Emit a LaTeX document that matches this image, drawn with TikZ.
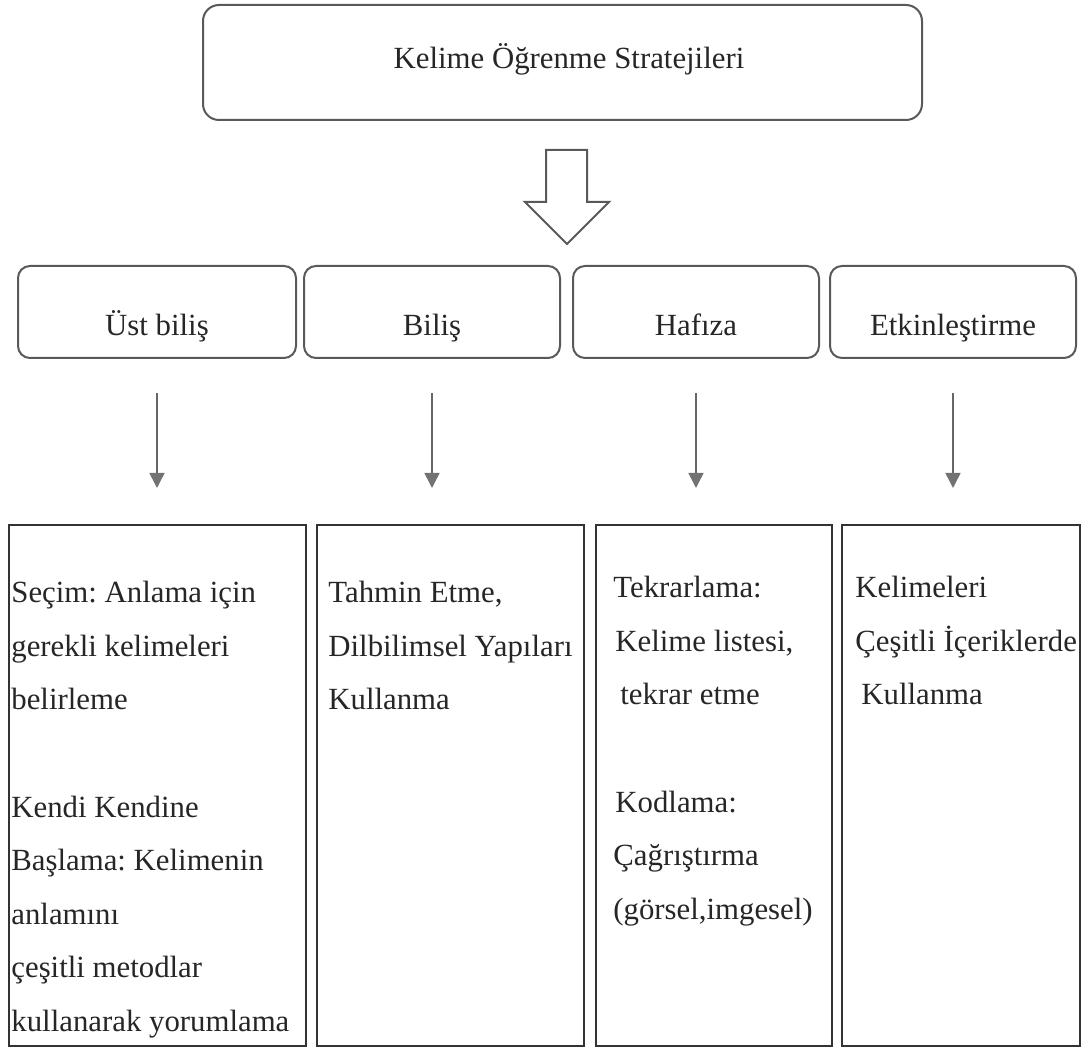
\documentclass[tikz,border=0pt]{standalone}
\usepackage{fontspec}
\setmainfont{Liberation Serif}
\usepackage{tikz}
\usetikzlibrary{positioning, calc, arrows.meta}
\frenchspacing
\newcommand\yazi{\fontsize{15.4pt}{26.8pt}\selectfont}
\tikzset{
    %Define standard arrow tip
    >={Triangle[width=7.5pt,length=7.5pt,color=black!55]},
    %Define style for the main box
    anakutu/.style={
           rectangle,
           rounded corners=8pt,
           draw=black!65, line width=1pt,
           minimum width=359.5pt,
           minimum height=57.5pt,
           inner sep=0pt, outer sep=0pt,
           text height=9.7pt, text depth=4pt,
           text=black!85,
           font=\yazi},
    % Define style for the second row
    katman/.style={
           rectangle,
           rounded corners=6pt,
           draw=black!65, line width=1pt,
           minimum height=46pt,
           inner sep=0pt, outer sep=0pt,
           text height=23.6pt, text depth=0pt,
           text=black!85,
           font=\yazi},
    % boxes of the last row
    liste/.style={
           rectangle,
           draw=black!80, line width=1pt,
           minimum height=260.5pt,
           inner sep=0pt, outer sep=0pt},
    metin/.style={
           anchor=north west,
           inner sep=0pt,
           align=left,
           text=black!85,
           font=\yazi\frenchspacing},
    % Define arrow style
    ok/.style={
           ->,
           draw=black!60,
           line width=0.75pt,
           shorten <=17.5pt,
           shorten >=18.5pt},
    blok/.style={
           draw=black!65,
           line width=1pt,
           line join=miter}
}

\begin{document}
\begin{tikzpicture}[x=0.5pt, y=-0.5pt, node distance=5pt]
	\useasboundingbox (0,0) rectangle (1084,1048);
	%
	% kutular
	%
	\node[anakutu] (kok) at (562.5,62.5) {\hspace{6.5pt}Kelime Öğrenme Stratejileri};
	\node[katman, minimum width=139pt] (ust) at (157,312) {Üst biliş\hspace{13pt}};
	\node[katman, minimum width=128pt, right=4pt of ust] (bil) {Biliş\hspace{9pt}};
	\node[katman, minimum width=123pt, right=6.5pt of bil] (haf) {Hafıza\hspace{15pt}};
	\node[katman, minimum width=123pt, right=5.5pt of haf] (etk) {Etkinleştirme};
	%
	\node[liste, minimum width=148.5pt, anchor=north west] (ustL) at (9,525) {};
	\node[liste, minimum width=133.5pt, right=5.5pt of ustL] (bilL) {};
	\node[liste, minimum width=118pt, right=6pt of bilL] (hafL) {};
	\node[liste, minimum width=119pt, right=5pt of hafL] (etkL) {};
	%
	% metinler
	%
	\node[metin] (ustT) at ([shift={(1pt,-28pt)}]ustL.north west) {Seçim: Anlama için\\ gerekli kelimeleri\\ belirleme\\[26.8pt] Kendi Kendine\\ Başlama: Kelimenin\\ anlamını\\ çeşitli metodlar\\ kullanarak yorumlama};
	\node[metin] (bilT) at ([shift={(5.5pt,-28pt)}]bilL.north west) {Tahmin Etme,\\ Dilbilimsel Yapıları\\ Kullanma};
	\node[metin] (hafT) at ([shift={(8.5pt,-25.5pt)}]hafL.north west) {Tekrarlama:\\ \hspace*{1pt}Kelime listesi,\\ \hspace*{3.5pt}tekrar etme\\[26.8pt] \hspace*{1pt}Kodlama:\\ Çağrıştırma\\ (görsel,imgesel)};
	\node[metin] (etkT) at ([shift={(6.5pt,-25.5pt)}]etkL.north west) {Kelimeleri\\ Çeşitli İçeriklerde\\ \hspace*{3pt}Kullanma};
	%
	% oklar
	%
	\draw[blok] (546,150) -- (587,150) -- (587,202) -- (609,202) -- (567,244) -- (525,202) -- (546,202) -- cycle;
	\draw[ok] (ust.south) -- (ust.south |- ustL.north);
	\draw[ok] (bil.south) -- (bil.south |- bilL.north);
	\draw[ok] (haf.south) -- (haf.south |- hafL.north);
	\draw[ok] (etk.south) -- (etk.south |- etkL.north);
\end{tikzpicture}
\end{document}
